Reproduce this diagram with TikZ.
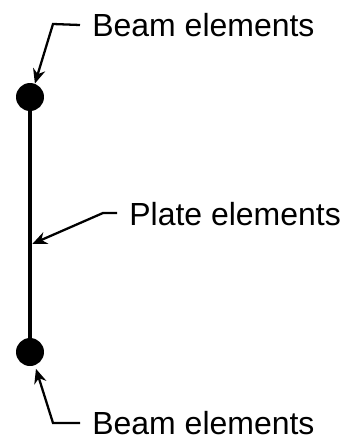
\documentclass[tikz,border=0pt]{standalone}
\usepackage{fontspec}
\setmainfont{Liberation Sans}
\usetikzlibrary{arrows.meta, calc}

\tikzset{
  dot/.style={circle, fill=black, minimum size=0.56cm, inner sep=0pt},
  lbl/.style={anchor=west, inner xsep=0.24cm, inner ysep=0pt,
              font=\fontsize{18.2}{20}\selectfont},
  pointer/.style={-{Stealth[length=0.29cm, width=0.25cm]}, line width=1.3pt},
  plate/.style={line width=2.2pt}
}

\begin{document}
\begin{tikzpicture}[x=0.02cm, y=-0.02cm]
    \useasboundingbox (0,0) rectangle (349,440);

    % --- Beam ends and plate ---
    \node[dot] (topdot) at (30,97) {};
    \node[dot] (botdot) at (30,352) {};
    \draw[plate] (topdot.center) -- (botdot.center);
    \coordinate (platept) at ($(topdot.center)!0.58!(botdot.center)$);

    % --- Labels ---
    \node[lbl] (toplbl) at (80,25) {Beam elements};
    \node[lbl] (platelbl) at (117,214) {Plate elements};
    \node[lbl] (botlbl) at (80,423) {Beam elements};

    % --- Pointers ---
    \coordinate (topbend) at (53,24);
    \coordinate (platebend) at (103,213);
    \coordinate (botbend) at (53,423);
    \draw[pointer] (toplbl.west) -- (topbend) -- (topdot.70);
    \draw[pointer, shorten >=1.5pt] (platelbl.west |- platebend) -- (platebend) -- (platept);
    \draw[pointer, shorten >=2pt] (botlbl.west) -- (botbend) -- (botdot.-70);
  \end{tikzpicture}
\end{document}
